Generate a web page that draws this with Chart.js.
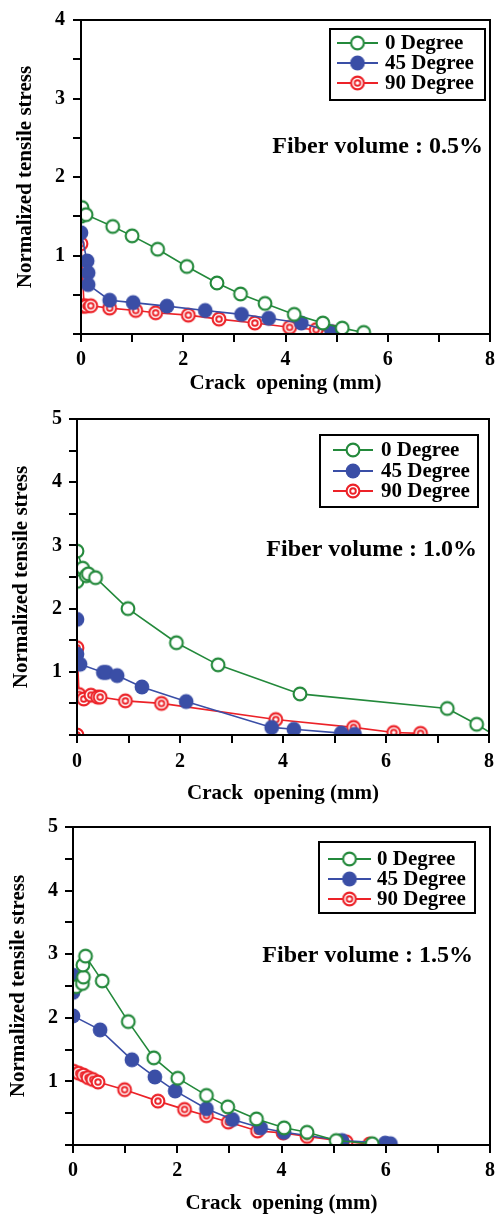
<!DOCTYPE html>
<html>
<head>
<meta charset="utf-8">
<script src="https://cdn.jsdelivr.net/npm/chart.js@4.4.1/dist/chart.umd.min.js"></script>
<style>
  html, body { margin:0; padding:0; background:#fff; }
  body { width:501px; height:1216px; position:relative; overflow:hidden; }
  .panel { position:absolute; left:0; width:501px; }
</style>
</head>
<body>
<div class="panel" style="top:0;height:400px;"><canvas id="c1" width="501" height="400"></canvas></div>
<div class="panel" style="top:400px;height:408px;"><canvas id="c2" width="501" height="408"></canvas></div>
<div class="panel" style="top:808px;height:408px;"><canvas id="c3" width="501" height="408"></canvas></div>
<script>
// --- data: [crack opening (mm), normalized tensile stress] ---
const SERIES_LABELS = ['0 Degree', '45 Degree', '90 Degree'];
const X_TICKS = [0, 2, 4, 6, 8];

// Fiber volume 0.5%
const vf05_deg0 = [[0,1.50],[0.02,1.61],[0.10,1.52],[0.62,1.37],[1.00,1.25],[1.50,1.08],[2.07,0.86],[2.66,0.65],[3.12,0.51],[3.60,0.39],[4.17,0.25],[4.73,0.14],[5.11,0.075],[5.53,0.02]];
const vf05_deg45 = [[0,1.29],[0.12,0.93],[0.14,0.78],[0.14,0.63],[0.56,0.43],[1.02,0.40],[1.68,0.355],[2.43,0.30],[3.14,0.25],[3.67,0.20],[4.31,0.14],[4.90,0.03]];
const vf05_deg90 = [[0,1.15],[0.06,0.36],[0.03,0.355],[0.10,0.355],[0.19,0.36],[0.56,0.33],[1.07,0.30],[1.46,0.27],[2.10,0.24],[2.70,0.19],[3.40,0.14],[4.08,0.085],[4.60,0.055],[4.93,0.025]];

// Fiber volume 1.0%
const vf10_deg0 = [[0,2.43],[0,2.91],[0.11,2.64],[0.18,2.52],[0.22,2.55],[0.36,2.49],[0.99,2.00],[1.93,1.46],[2.74,1.11],[4.33,0.65],[7.19,0.42],[7.76,0.17],[8.0,0.05]];
const vf10_deg45 = [[0,1.83],[0,1.28],[0.06,1.12],[0.51,0.99],[0.57,0.99],[0.78,0.94],[1.26,0.76],[2.12,0.53],[3.78,0.12],[4.21,0.09],[5.13,0.03],[5.39,0.01]];
const vf10_deg90 = [[0,0.0],[0,1.38],[0.04,0.64],[0.13,0.57],[0.27,0.63],[0.40,0.60],[0.45,0.60],[0.94,0.54],[1.64,0.50],[3.86,0.245],[5.37,0.12],[6.15,0.04],[6.67,0.026]];

// Fiber volume 1.5%
const vf15_deg0 = [[0.06,2.49],[0.18,2.54],[0.20,2.64],[0.19,2.83],[0.24,2.97],[0.56,2.58],[1.06,1.94],[1.55,1.37],[2.01,1.05],[2.56,0.78],[2.97,0.60],[3.52,0.41],[4.05,0.27],[4.49,0.20],[5.05,0.07],[5.74,0.02]];
const vf15_deg45 = [[0,2.40],[0,2.67],[0,2.48],[0,2.03],[0.52,1.81],[1.13,1.34],[1.57,1.07],[1.96,0.85],[2.56,0.57],[3.06,0.40],[3.60,0.27],[4.05,0.20],[5.16,0.07],[5.99,0.03],[6.09,0.02]];
const vf15_deg90 = [[0.01,1.16],[0.11,1.13],[0.20,1.10],[0.29,1.06],[0.38,1.03],[0.48,0.99],[0.99,0.87],[1.63,0.69],[2.14,0.56],[2.56,0.46],[2.98,0.36],[3.54,0.22],[4.03,0.19],[4.49,0.135],[5.24,0.05],[5.69,0.015]];

const COLOURS = { deg0: '#23893b', deg45: '#3a4ea6', deg90: '#ec2228' };
const SERIF = "'Liberation Serif', 'DejaVu Serif', serif";

// markers drawn once into small canvases, reused as pointStyle and legend sample
function makeMarker(kind) {
  const c = document.createElement('canvas');
  c.width = 18; c.height = 18;
  const g = c.getContext('2d');
  g.beginPath();
  if (kind === 'open') {
    g.arc(9, 9, 6.4, 0, Math.PI * 2);
    g.fillStyle = '#fff'; g.fill();
    g.lineWidth = 2.1; g.strokeStyle = COLOURS.deg0; g.stroke();
  } else if (kind === 'filled') {
    g.arc(9, 9, 7.4, 0, Math.PI * 2);
    g.fillStyle = COLOURS.deg45; g.fill();
  } else {
    g.arc(9, 9, 6.4, 0, Math.PI * 2);
    g.fillStyle = '#fff'; g.fill();
    g.lineWidth = 2.1; g.strokeStyle = COLOURS.deg90; g.stroke();
    g.beginPath();
    g.arc(9, 9, 2.8, 0, Math.PI * 2);
    g.fillStyle = '#fff'; g.fill();
    g.lineWidth = 1.9; g.stroke();
  }
  return c;
}
const MARKERS = [makeMarker('open'), makeMarker('filled'), makeMarker('target')];

// frame, legend box and "Fiber volume" note
const boxPlugin = {
  id: 'panelDecor',
  afterDraw(chart, args, opts) {
    const { ctx, chartArea: a } = chart;
    ctx.save();
    ctx.lineWidth = 2;
    ctx.strokeStyle = '#000';
    ctx.strokeRect(a.left, a.top, a.right - a.left, a.bottom - a.top);
    const L = opts.legend;
    ctx.strokeRect(L.x, L.y, L.w, L.h);
    ctx.font = `bold 21px ${SERIF}`;
    ctx.textBaseline = 'middle';
    ctx.textAlign = 'left';
    chart.data.datasets.forEach((ds, i) => {
      const ry = L.rows[i];
      ctx.beginPath();
      ctx.moveTo(L.lineX0, ry); ctx.lineTo(L.lineX1, ry);
      ctx.strokeStyle = ds.borderColor; ctx.lineWidth = 2; ctx.stroke();
      const mx = (L.lineX0 + L.lineX1) / 2;
      ctx.drawImage(MARKERS[i], mx - 9, ry - 9);
      ctx.fillStyle = '#000';
      ctx.fillText(ds.label, L.textX, ry + 1);
    });
    ctx.font = `bold 24px ${SERIF}`;
    ctx.textAlign = 'right';
    ctx.fillStyle = '#000';
    ctx.fillText(opts.note.text, opts.note.x, opts.note.y);
    ctx.restore();
  }
};

function toXY(arr) { return arr.map(p => ({ x: p[0], y: p[1] })); }

function makeChart(id, series, cfg) {
  const datasets = series.map((s, i) => ({
    label: SERIES_LABELS[i],
    data: toXY(s),
    borderColor: Object.values(COLOURS)[i],
    borderWidth: 1.6,
    pointStyle: MARKERS[i],
    // last green point of the 1.0% panel is only where the line leaves the frame
    pointRadius: s.map((p, k) => (cfg.hideLastGreen && i === 0 && k === s.length - 1) ? 0 : 8),
    tension: 0,
    fill: false,
    order: i,
  }));

  return new Chart(document.getElementById(id), {
    type: 'line',
    data: { datasets },
    options: {
      responsive: false,
      animation: false,
      devicePixelRatio: 1,
      layout: { padding: { left: 0, top: cfg.padTop, right: cfg.padRight, bottom: 0 } },
      plugins: {
        legend: { display: false },
        tooltip: { enabled: false },
        panelDecor: { legend: cfg.legend, note: cfg.note },
      },
      scales: {
        x: {
          type: 'linear', min: 0, max: 8,
          afterFit: sc => { sc.height = cfg.xHeight; },
          ticks: {
            stepSize: 1, autoSkip: false, maxRotation: 0, padding: cfg.xTickPad,
            color: '#000', font: { family: SERIF, size: 20, weight: 'bold' },
            callback: v => X_TICKS.includes(v) ? String(v) : '',
          },
          grid: { drawOnChartArea: false, drawTicks: true, tickLength: 8, color: '#000', lineWidth: 2 },
          border: { display: true, color: '#000', width: 2 },
          title: {
            display: true, text: 'Crack  opening (mm)', color: '#000',
            font: { family: SERIF, size: 21, weight: 'bold' },
            padding: { top: 0, bottom: cfg.xTitlePad },
          },
        },
        y: {
          type: 'linear', min: 0, max: cfg.yMax,
          afterFit: sc => { sc.width = cfg.yWidth; },
          ticks: {
            stepSize: 0.5, padding: cfg.yTickPad,
            color: '#000', font: { family: SERIF, size: 20, weight: 'bold' },
            callback: v => (Number.isInteger(v) && v > 0) ? String(v) : '',
          },
          grid: { drawOnChartArea: false, drawTicks: true, tickLength: 8, color: '#000', lineWidth: 2 },
          border: { display: true, color: '#000', width: 2 },
          title: {
            display: true, text: 'Normalized tensile stress', color: '#000',
            font: { family: SERIF, size: 21, weight: 'bold' },
            padding: { top: cfg.yTitlePad, bottom: 0 },
          },
        },
      },
    },
    plugins: [boxPlugin],
  });
}

makeChart('c1', [vf05_deg0, vf05_deg45, vf05_deg90], {
  yMax: 4, padTop: 15, padRight: 3, yWidth: 81, xHeight: 66,
  xTickPad: 6, yTickPad: 8, xTitlePad: 4, yTitlePad: 13,
  legend: { x: 330, y: 29, w: 155, h: 71, rows: [43, 63, 83], lineX0: 337, lineX1: 378, textX: 385 },
  note: { text: 'Fiber volume : 0.5%', x: 483, y: 147 },
});

makeChart('c2', [vf10_deg0, vf10_deg45, vf10_deg90], {
  yMax: 5, padTop: 16, padRight: 6, yWidth: 77, xHeight: 73,
  xTickPad: 7, yTickPad: 7, xTitlePad: 2, yTitlePad: 9, hideLastGreen: true,
  legend: { x: 320, y: 35, w: 158, h: 72, rows: [50, 71, 91], lineX0: 333, lineX1: 373, textX: 381 },
  note: { text: 'Fiber volume : 1.0%', x: 477, y: 150 },
});

makeChart('c3', [vf15_deg0, vf15_deg45, vf15_deg90], {
  yMax: 5, padTop: 17, padRight: 9, yWidth: 73, xHeight: 71,
  xTickPad: 6, yTickPad: 7, xTitlePad: 0, yTitlePad: 6,
  legend: { x: 319, y: 34, w: 156, h: 71, rows: [51, 71, 91], lineX0: 328, lineX1: 371, textX: 377 },
  note: { text: 'Fiber volume : 1.5%', x: 473, y: 148 },
});
</script>
</body>
</html>
